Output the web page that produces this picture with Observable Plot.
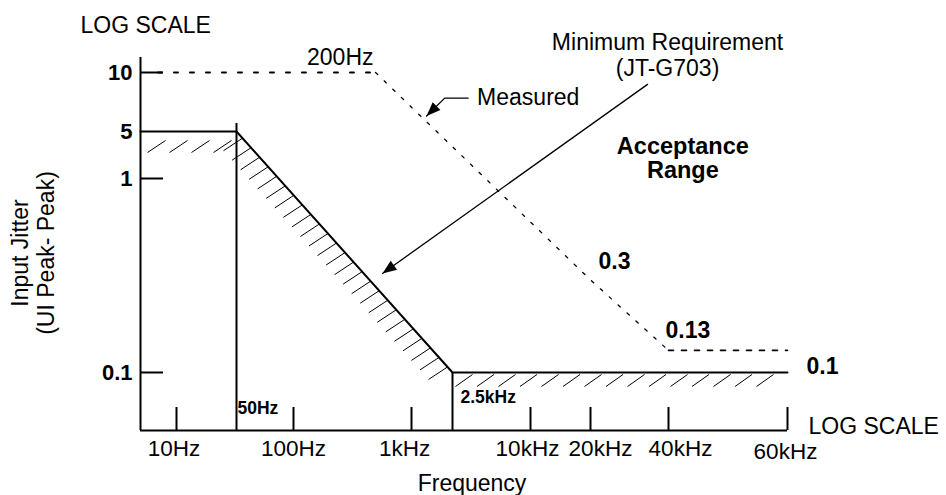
<!DOCTYPE html>
<html><head><meta charset="utf-8">
<script src="https://cdn.jsdelivr.net/npm/d3@7"></script>
<script src="https://cdn.jsdelivr.net/npm/@observablehq/plot@0.6"></script>
<style>body{margin:0;background:#fff;} svg{display:block}</style>
</head><body><div id="chart"></div>
<script>
// ---------- data ----------
const xTickValues = [10, 100, 1000, 10000, 20000, 40000, 60000];
const xTickLabels = ["10Hz", "100Hz", "1kHz", "10kHz", "20kHz", "40kHz", "60kHz"];
const yTickValues = [10, 5, 1, 0.1];
const yTickLabels = ["10", "5", "1", "0.1"];
const yTickMarks = [10, 1, 0.1];

// Minimum requirement mask (JT-G703)
const maskFreq = [5, 50, 2500, 60000];
const maskJitter = [5, 5, 0.1, 0.1];

// Measured input jitter tolerance
const measuredFreq = [7, 200, 20000, 40000, 60000];
const measuredJitter = [10, 10, 0.3, 0.13, 0.13];

// annotation arrows (frequency, jitter)
const measuredArrowFreq = [3300, 2100, 1400];
const measuredArrowJitter = [7.4, 7.4, 6.0];
const reqArrowFreq = [33200, 273];
const reqArrowJitter = [8.7, 0.324];
const acceptanceFreq = 42000, acceptanceJitter = 2.0;

// ---------- layout: schematic (non-uniform) log scales ----------
const xDomain = [5, 10, 50, 100, 200, 1000, 2500, 10000, 20000, 40000, 60000];
const xRange  = [140, 176, 236, 293, 375, 411, 452, 530, 590, 668, 787];
const yDomain = [0.05, 0.1, 1, 5, 10, 12];
const yRange  = [430, 372, 178, 131, 72, 57];
const xLabelNudge = [-2.5, 0, -7, -3, 10, 12, -2];
const xLabelDrop  = [0, 0, 0, 0, 0, 0, 3];

const font = "'Liberation Sans', Arial, Helvetica, sans-serif";
const W = 946, H = 495, mL = 140, mR = 159, mT = 57, mB = 65;
const frameW = W - mL - mR, frameH = H - mT - mB;

const mask = maskFreq.map((f, i) => ({f, j: maskJitter[i]}));
const measured = measuredFreq.map((f, i) => ({f, j: measuredJitter[i]}));
const mArrow = measuredArrowFreq.map((f, i) => ({f, j: measuredArrowJitter[i]}));
const rArrow = reqArrowFreq.map((f, i) => ({f, j: reqArrowJitter[i]}));

// helper scales identical to the plot's, for arrowhead angles and hatch spacing
const xs = d3.scaleLog().domain(xDomain).range(xRange);
const ys = d3.scaleLog().domain(yDomain).range(yRange);
const angle = (a, b) => Math.atan2(xs(b.f) - xs(a.f), -(ys(b.j) - ys(a.j))) * 180 / Math.PI;
const arrowHead = {draw(ctx) { ctx.moveTo(0, 0); ctx.lineTo(-5.5, 14); ctx.lineTo(5.5, 14); ctx.closePath(); }};
const heads = [
  {...mArrow[2], a: angle(mArrow[1], mArrow[2])},
  {...rArrow[1], a: angle(rArrow[0], rArrow[1])}
];

// hatching (a line style along the mask segments, evenly spaced on screen)
function hatchAlong(p0, p1, tStart, tEnd, step, a, b) {
  const X0 = xs(p0.f), Y0 = ys(p0.j), X1 = xs(p1.f), Y1 = ys(p1.j);
  const L = Math.hypot(X1 - X0, Y1 - Y0), ux = (X1 - X0) / L, uy = (Y1 - Y0) / L;
  const out = [];
  for (let t = tStart; t <= L - tEnd; t += step) {
    const qx = X0 + ux * t, qy = Y0 + uy * t;
    out.push({x1: xs.invert(qx + a[0]), y1: ys.invert(qy + a[1]), x2: xs.invert(qx + b[0]), y2: ys.invert(qy + b[1])});
  }
  return out;
}
const hatches = [
  ...hatchAlong(mask[0], mask[1], 25, 0, 22, [0, 9], [-18, 21]),
  ...hatchAlong(mask[1], mask[2], 9, 4, 12.8, [0, 0], [-19, 12.5]),
  ...hatchAlong(mask[2], mask[3], 20, 8, 21.5, [0, 2], [-17, 14])
];

const txt = {fontFamily: font, fill: "#000"};

const xLabelMarks = xTickValues.map((v, i) =>
  Plot.text([v], {x: d => d, y: () => yDomain[0], text: () => xTickLabels[i], dx: xLabelNudge[i], dy: 18 + xLabelDrop[i], fontSize: 22.5, lineAnchor: "middle", ...txt}));

const chart = Plot.plot({
  width: W, height: H,
  marginLeft: mL, marginRight: mR, marginTop: mT, marginBottom: mB,
  style: {fontFamily: font, background: "#fff", color: "#000", overflow: "visible"},
  x: {type: "log", domain: xDomain, range: xRange, axis: null},
  y: {type: "log", domain: yDomain, range: yRange, axis: null},
  marks: [
    // hatching under the mask
    Plot.link(hatches, {x1: "x1", y1: "y1", x2: "x2", y2: "y2", stroke: "#000", strokeWidth: 1}),
    // mask line
    Plot.line(mask, {x: "f", y: "j", stroke: "#000", strokeWidth: 2, strokeLinejoin: "miter"}),
    Plot.ruleX([maskFreq[1]], {y1: yDomain[0], y2: maskJitter[1], stroke: "#000", strokeWidth: 2, insetBottom: 8}),
    Plot.ruleX([maskFreq[2]], {y1: yDomain[0], y2: maskJitter[2], stroke: "#000", strokeWidth: 2}),
    // measured (dashed)
    Plot.line(measured.slice(0, 2), {x: "f", y: "j", stroke: "#000", strokeWidth: 2, strokeDasharray: "4,12"}),
    Plot.line(measured.slice(1, 4), {x: "f", y: "j", stroke: "#000", strokeWidth: 1.3, strokeDasharray: "3,9"}),
    Plot.line(measured.slice(3, 5), {x: "f", y: "j", stroke: "#000", strokeWidth: 1.6, strokeDasharray: "5,8"}),
    // axes
    Plot.ruleX([xDomain[0]], {y1: yDomain[0], y2: yDomain[yDomain.length - 1], stroke: "#000", strokeWidth: 2}),
    Plot.ruleY([yDomain[0]], {x1: xDomain[0], x2: 60000, stroke: "#000", strokeWidth: 2}),
    Plot.tickX(xTickValues, {x: d => d, stroke: "#000", strokeWidth: 2, insetTop: frameH - 23}),
    Plot.tickY(yTickMarks, {y: d => d, stroke: "#000", strokeWidth: 2, insetRight: frameW - 23}),
    // tick labels
    ...xLabelMarks,
    Plot.text(yTickValues, {x: () => xDomain[0], y: d => d, text: (d, i) => yTickLabels[i], dx: -8, textAnchor: "end", fontSize: 22, fontWeight: "bold", lineAnchor: "middle", ...txt}),
    // value labels
    Plot.text([measured[1]], {x: "f", y: "j", text: () => "200Hz", textAnchor: "end", lineAnchor: "bottom", dx: -2, dy: -8, fontSize: 23, ...txt}),
    Plot.text([measured[2]], {x: "f", y: "j", text: () => "0.3", textAnchor: "start", lineAnchor: "bottom", dx: 8, dy: -11, fontSize: 23, fontWeight: "bold", ...txt}),
    Plot.text([measured[3]], {x: "f", y: "j", text: () => "0.13", textAnchor: "start", lineAnchor: "bottom", dx: -3, dy: -12, fontSize: 23, fontWeight: "bold", ...txt}),
    Plot.text([mask[3]], {x: "f", y: "j", text: () => "0.1", textAnchor: "start", lineAnchor: "bottom", dx: 19, dy: 1, fontSize: 23, fontWeight: "bold", ...txt}),
    Plot.text([mask[1]], {x: "f", y: () => yDomain[0], text: () => "50Hz", textAnchor: "start", lineAnchor: "bottom", dx: 1, dy: -17, fontSize: 17.5, fontWeight: "bold", ...txt}),
    Plot.text([mask[2]], {x: "f", y: () => yDomain[0], text: () => "2.5kHz", textAnchor: "start", lineAnchor: "bottom", dx: 8, dy: -28, fontSize: 17.5, fontWeight: "bold", ...txt}),
    // arrows
    Plot.line(mArrow, {x: "f", y: "j", stroke: "#000", strokeWidth: 1.3}),
    Plot.line(rArrow, {x: "f", y: "j", stroke: "#000", strokeWidth: 1.3}),
    Plot.dot(heads, {x: "f", y: "j", symbol: arrowHead, r: 1, fill: "#000", stroke: "none", rotate: "a"}),
    Plot.text([mArrow[0]], {x: "f", y: "j", text: () => "Measured", textAnchor: "start", lineAnchor: "middle", dx: 9, dy: -1, fontSize: 23, ...txt}),
    Plot.text([rArrow[0]], {x: "f", y: "j", text: () => "Minimum Requirement\n(JT-G703)", textAnchor: "middle", lineAnchor: "bottom", dx: 20, dy: -8, lineHeight: 1.13, fontSize: 23, ...txt}),
    Plot.text([{f: acceptanceFreq, j: acceptanceJitter}], {x: "f", y: "j", text: () => "Acceptance\nRange", textAnchor: "middle", lineAnchor: "middle", lineHeight: 1.0, fontSize: 23.5, fontWeight: "bold", ...txt}),
    // axis titles
    Plot.text(["LOG SCALE"], {frameAnchor: "top-left", textAnchor: "start", lineAnchor: "bottom", dx: -60, dy: -25, fontSize: 23, ...txt}),
    Plot.text(["LOG SCALE"], {frameAnchor: "bottom-right", textAnchor: "start", lineAnchor: "bottom", dx: 21, dy: 3, fontSize: 23, ...txt}),
    Plot.text(["Frequency"], {frameAnchor: "bottom", textAnchor: "middle", lineAnchor: "bottom", dx: 8, dy: 60, fontSize: 23, ...txt}),
    Plot.text(["Input Jitter\n(UI Peak- Peak)"], {frameAnchor: "left", textAnchor: "middle", lineAnchor: "bottom", rotate: -90, dx: -87, dy: 9, lineHeight: 1.13, fontSize: 23, ...txt})
  ]
});

document.getElementById("chart").append(chart);
</script>
</body></html>
